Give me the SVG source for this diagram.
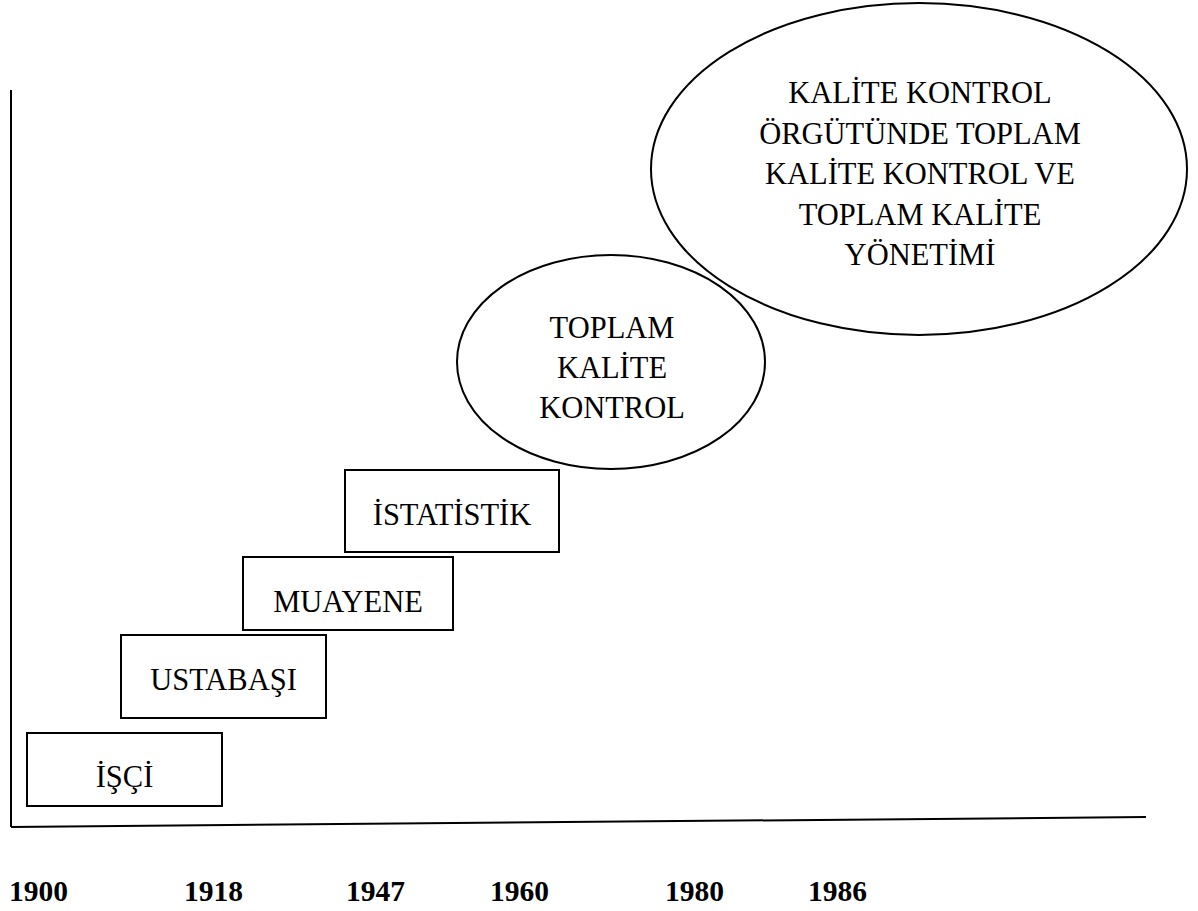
<svg xmlns="http://www.w3.org/2000/svg" width="1198" height="911" viewBox="0 0 1198 911">
<style>
.box{fill:none;stroke:#000;stroke-width:2}
.ell{fill:none;stroke:#000;stroke-width:2}
.axis{fill:none;stroke:#000;stroke-width:2}
.t{font-family:"Liberation Serif","Times New Roman",serif;font-size:30.5px;fill:#000;text-anchor:middle}
.y{font-family:"Liberation Serif","Times New Roman",serif;font-size:29.5px;font-weight:bold;fill:#000}
</style>
<rect width="1198" height="911" fill="#fff"/>
<g id="axes">
<line class="axis" x1="11" y1="90" x2="11" y2="827"/>
<line class="axis" x1="11" y1="827" x2="1146" y2="817"/>
</g>
<g id="node-isci">
<rect class="box" x="27" y="733" width="195" height="73"/>
<text class="t" x="124.5" y="787">İŞÇİ</text>
</g>
<g id="node-ustabasi">
<rect class="box" x="121" y="635" width="205" height="83"/>
<text class="t" x="223.5" y="690">USTABAŞI</text>
</g>
<g id="node-muayene">
<rect class="box" x="243" y="557" width="210" height="73"/>
<text class="t" x="348" y="612">MUAYENE</text>
</g>
<g id="node-istatistik">
<rect class="box" x="345" y="470" width="214" height="82"/>
<text class="t" x="452" y="525">İSTATİSTİK</text>
</g>
<g id="node-tkk">
<ellipse class="ell" cx="611" cy="362" rx="154" ry="107"/>
<text class="t" x="612" y="338">TOPLAM</text>
<text class="t" x="612" y="378">KALİTE</text>
<text class="t" x="612" y="418">KONTROL</text>
</g>
<g id="node-tky">
<ellipse class="ell" cx="919" cy="169" rx="268" ry="166"/>
<text class="t" x="920" y="103">KALİTE KONTROL</text>
<text class="t" x="920" y="143.5">ÖRGÜTÜNDE TOPLAM</text>
<text class="t" x="920" y="184">KALİTE KONTROL VE</text>
<text class="t" x="920" y="224.5">TOPLAM KALİTE</text>
<text class="t" x="920" y="265">YÖNETİMİ</text>
</g>
<g id="connectors"></g>
<g id="years">
<text class="y" x="9" y="901">1900</text>
<text class="y" x="184" y="901">1918</text>
<text class="y" x="346" y="901">1947</text>
<text class="y" x="490" y="901">1960</text>
<text class="y" x="665" y="901">1980</text>
<text class="y" x="808" y="901">1986</text>
</g>
</svg>
